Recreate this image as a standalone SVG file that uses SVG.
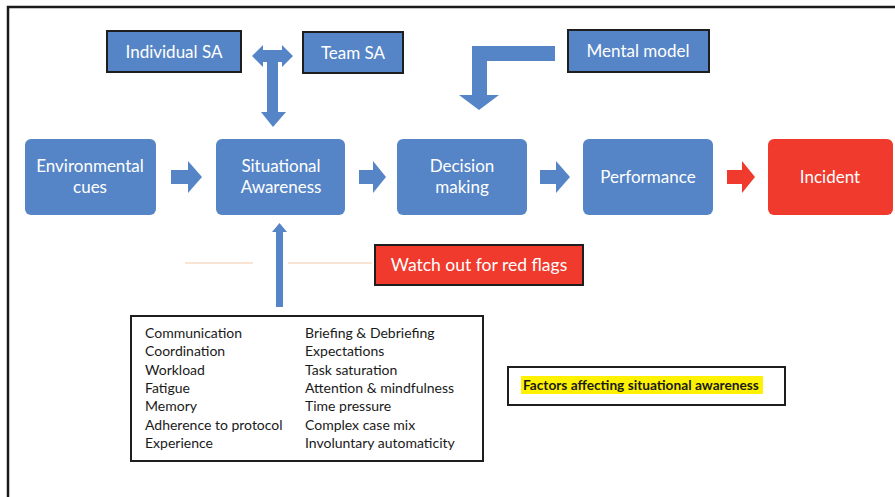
<svg xmlns="http://www.w3.org/2000/svg" width="895" height="497" viewBox="0 0 895 497">
<style>
.node{fill:#5585C6}
.bordered{stroke:#1e1e1e;stroke-width:2}
.red{fill:#EF3A2D}
.wt{font-family:Lato,"Open Sans","Liberation Sans",sans-serif;fill:#ffffff;font-size:17px;text-anchor:middle}
.lt{font-family:Lato,"Liberation Sans",sans-serif;fill:#1a1a1a;font-size:14px}
.arrow{fill:#5585C6}
</style>
<rect width="895" height="497" fill="#ffffff"/>
<path d="M8,497 V7 H895" fill="none" stroke="#1a1a1a" stroke-width="2.5"/>

<g id="individual-sa">
<rect class="node bordered" x="107" y="31" width="134" height="41"/>
<text class="wt" x="174" y="58">Individual SA</text>
</g>
<g id="team-sa">
<rect class="node bordered" x="303" y="32" width="100" height="41"/>
<text class="wt" x="353" y="59">Team SA</text>
</g>
<g id="mental-model">
<rect class="node bordered" x="568" y="30" width="141" height="42"/>
<text class="wt" x="638" y="57">Mental model</text>
</g>

<g id="environmental-cues">
<rect class="node" x="25" y="139" width="131" height="76" rx="6"/>
<text class="wt" x="90" y="172">Environmental</text>
<text class="wt" x="90" y="193">cues</text>
</g>
<g id="situational-awareness">
<rect class="node" x="216" y="139" width="129" height="76" rx="6"/>
<text class="wt" x="281" y="172">Situational</text>
<text class="wt" x="281" y="193">Awareness</text>
</g>
<g id="decision-making">
<rect class="node" x="397" y="139" width="130" height="76" rx="6"/>
<text class="wt" x="462" y="172">Decision</text>
<text class="wt" x="462" y="193">making</text>
</g>
<g id="performance">
<rect class="node" x="583" y="139" width="130" height="76" rx="6"/>
<text class="wt" x="648" y="183">Performance</text>
</g>
<g id="incident">
<rect class="red" x="768" y="139" width="125" height="76" rx="6"/>
<text class="wt" x="830" y="183">Incident</text>
</g>

<g id="red-flags">
<rect class="red bordered" x="375" y="245" width="208" height="40"/>
<text class="wt" x="479" y="271" style="font-size:17.5px">Watch out for red flags</text>
</g>

<g id="factors-list">
<rect x="131" y="316" width="352" height="145" fill="#ffffff" stroke="#1e1e1e" stroke-width="2"/>
<text class="lt" x="145" y="338">Communication</text>
<text class="lt" x="145" y="356">Coordination</text>
<text class="lt" x="145" y="375">Workload</text>
<text class="lt" x="145" y="393">Fatigue</text>
<text class="lt" x="145" y="411">Memory</text>
<text class="lt" x="145" y="430">Adherence to protocol</text>
<text class="lt" x="145" y="448">Experience</text>
<text class="lt" x="305" y="338">Briefing &amp; Debriefing</text>
<text class="lt" x="305" y="356">Expectations</text>
<text class="lt" x="305" y="375">Task saturation</text>
<text class="lt" x="305" y="393">Attention &amp; mindfulness</text>
<text class="lt" x="305" y="411">Time pressure</text>
<text class="lt" x="305" y="430">Complex case mix</text>
<text class="lt" x="305" y="448">Involuntary automaticity</text>
</g>

<g id="factors-title">
<rect x="508" y="367" width="277" height="38" fill="#ffffff" stroke="#1e1e1e" stroke-width="2"/>
<rect x="521" y="376" width="242" height="18" fill="#FFF200"/>
<text class="lt" x="523" y="390" style="font-weight:bold;font-size:13.7px">Factors affecting situational awareness</text>
</g>

<g id="connectors">
<path class="arrow" d="M252,56 L263,45 L263,50 L282,50 L282,45 L293,56 L282,67 L282,62 L278,62 L278,112 L286,112 L273,127 L261,112 L267,112 L267,62 L263,62 L263,67 Z"/>
<path class="arrow" d="M555,46 L555,61 L487,61 L487,95 L499,95 L479,110 L459,95 L472,95 L472,46 Z"/>
<path class="arrow" d="M171,170 L188,170 L188,161 L202,177 L188,193 L188,184 L171,184 Z"/>
<path class="arrow" d="M359,170 L373,170 L373,161 L386,177 L373,193 L373,184 L359,184 Z"/>
<path class="arrow" d="M540,170 L556,170 L556,161 L570,177 L556,193 L556,184 L540,184 Z"/>
<path class="red" d="M727,170 L742,170 L742,161 L755,177 L742,193 L742,184 L727,184 Z"/>
<path class="arrow" d="M276,307 L276,232 L272,232 L279.5,223 L287,232 L283,232 L283,307 Z"/>
<line x1="185" y1="263" x2="253" y2="263" stroke="#F4C9A8" stroke-width="1.2"/>
<line x1="288" y1="263" x2="372" y2="263" stroke="#F4C9A8" stroke-width="1.2"/>
</g>
</svg>
